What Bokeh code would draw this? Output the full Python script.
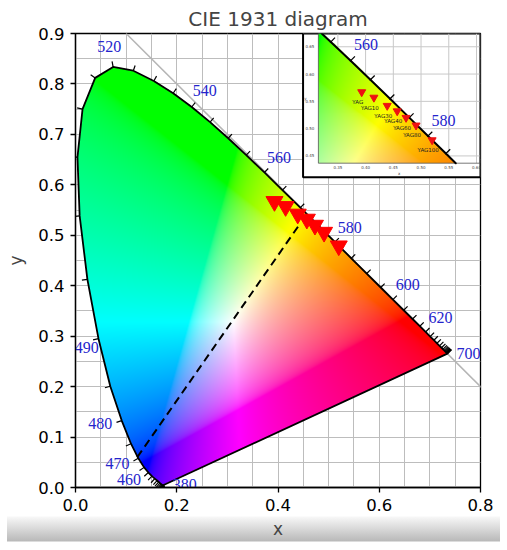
import numpy as np
from bokeh.plotting import figure
from bokeh.models import Range1d, FixedTicker, PrintfTickFormatter, Slope
from bokeh.core.properties import value
from bokeh.embed import file_html
from bokeh.resources import INLINE

# ---------------- data ----------------
wavelengths = list(range(380, 705, 5))
locus_x = [0.1741, 0.1740, 0.1738, 0.1736, 0.1733, 0.1730, 0.1726, 0.1721, 0.1714, 0.1703,
           0.1689, 0.1669, 0.1644, 0.1611, 0.1566, 0.1510, 0.1440, 0.1355, 0.1241, 0.1096,
           0.0913, 0.0687, 0.0454, 0.0235, 0.0082, 0.0039, 0.0139, 0.0389, 0.0743, 0.1142,
           0.1547, 0.1929, 0.2296, 0.2658, 0.3016, 0.3373, 0.3731, 0.4087, 0.4441, 0.4788,
           0.5125, 0.5448, 0.5752, 0.6029, 0.6270, 0.6482, 0.6658, 0.6801, 0.6915, 0.7006,
           0.7079, 0.7140, 0.7190, 0.7230, 0.7260, 0.7283, 0.7300, 0.7311, 0.7320, 0.7327,
           0.7334, 0.7340, 0.7344, 0.7346, 0.7347]
locus_y = [0.0050, 0.0050, 0.0049, 0.0049, 0.0048, 0.0048, 0.0048, 0.0048, 0.0051, 0.0058,
           0.0069, 0.0086, 0.0109, 0.0138, 0.0177, 0.0227, 0.0297, 0.0399, 0.0578, 0.0868,
           0.1327, 0.2007, 0.2950, 0.4127, 0.5384, 0.6548, 0.7502, 0.8120, 0.8338, 0.8262,
           0.8059, 0.7816, 0.7543, 0.7243, 0.6923, 0.6589, 0.6245, 0.5896, 0.5547, 0.5202,
           0.4866, 0.4544, 0.4242, 0.3965, 0.3725, 0.3514, 0.3340, 0.3197, 0.3083, 0.2993,
           0.2920, 0.2859, 0.2809, 0.2770, 0.2740, 0.2717, 0.2700, 0.2689, 0.2680, 0.2673,
           0.2666, 0.2660, 0.2656, 0.2654, 0.2653]
label_wavelengths = [380, 460, 470, 480, 490, 520, 540, 560, 580, 600, 620, 700]
inset_label_wavelengths = [560, 580]

samples = ["YAG", "YAG10", "YAG30", "YAG40", "YAG60", "YAG80", "YAG100"]
sample_x = [0.393, 0.415, 0.439, 0.457, 0.473, 0.491, 0.520]
sample_y = [0.567, 0.557, 0.542, 0.532, 0.520, 0.506, 0.479]

dash_x = [0.122, 0.445]
dash_y = [0.060, 0.525]

x_ticks = [0.0, 0.2, 0.4, 0.6, 0.8]
y_ticks = [0.0, 0.1, 0.2, 0.3, 0.4, 0.5, 0.6, 0.7, 0.8, 0.9]
grid_ticks = [round(0.05 * i, 2) for i in range(19)]
inset_x_ticks = [0.35, 0.40, 0.45, 0.50, 0.55, 0.60]
inset_y_ticks = [0.45, 0.50, 0.55, 0.60, 0.65]

# ---------------- helpers ----------------
LX = np.array(locus_x)
LY = np.array(locus_y)
N = len(LX)


def point_in_polygon(px, py, vx, vy):
    res = np.zeros(px.shape, dtype=bool)
    j = len(vx) - 1
    with np.errstate(divide="ignore", invalid="ignore"):
        for i in range(len(vx)):
            xi, yi, xj, yj = vx[i], vy[i], vx[j], vy[j]
            if yi != yj:
                cond = ((yi > py) != (yj > py)) & (px < (xj - xi) * (py - yi) / (yj - yi) + xi)
                res ^= cond
            j = i
    return res


def xy_to_rgb(xx, yy):
    ys = np.maximum(yy, 1e-4)
    X = xx / ys
    Y = np.ones_like(xx)
    Z = (1 - xx - yy) / ys
    r = 3.2406 * X - 1.5372 * Y - 0.4986 * Z
    g = -0.9689 * X + 1.8758 * Y + 0.0415 * Z
    b = 0.0557 * X - 0.2040 * Y + 1.0570 * Z
    rgb = np.clip(np.stack([r, g, b], -1), 0, None)
    m = rgb.max(-1, keepdims=True)
    rgb = rgb / np.maximum(m, 1e-9)
    rgb = np.where(rgb <= 0.0031308, 12.92 * rgb, 1.055 * np.power(rgb, 1 / 2.4) - 0.055)
    return (np.clip(rgb, 0, 1) * 255).astype(np.uint8)


def make_image(x0, x1, y0, y1, nx, ny):
    xs = x0 + (np.arange(nx) + 0.5) * (x1 - x0) / nx
    ys = y0 + (np.arange(ny) + 0.5) * (y1 - y0) / ny
    XX, YY = np.meshgrid(xs, ys)
    inside = point_in_polygon(XX, YY, LX, LY)
    rgb = xy_to_rgb(XX, YY)
    img = np.zeros((ny, nx), dtype=np.uint32)
    view = img.view(dtype=np.uint8).reshape((ny, nx, 4))
    view[..., 0] = rgb[..., 0]
    view[..., 1] = rgb[..., 1]
    view[..., 2] = rgb[..., 2]
    view[..., 3] = np.where(inside, 255, 0)
    return img


# outward normals of the locus (locus runs clockwise)
TX = np.empty(N)
TY = np.empty(N)
TX[1:-1] = LX[2:] - LX[:-2]
TY[1:-1] = LY[2:] - LY[:-2]
TX[0], TY[0] = LX[1] - LX[0], LY[1] - LY[0]
TX[-1], TY[-1] = LX[-1] - LX[-2], LY[-1] - LY[-2]
NRM = np.hypot(TX, TY)
NX = -TY / NRM
NY = TX / NRM


def label_layout(wls, d_center, d_side, d_end, nudge):
    out = dict(x=[], y=[], text=[], xo=[], yo=[], align=[])
    for wl in wls:
        i = wavelengths.index(wl)
        if i in (0, N - 1):
            al, xo, yo = "left", d_end, 0.0
        elif NX[i] < -0.5:
            al, xo, yo = "right", NX[i] * d_side, -NY[i] * d_side
        else:
            al, xo, yo = "center", NX[i] * d_center, -NY[i] * d_center
        dx, dy = nudge.get(wl, (0, 0))
        out["x"].append(LX[i])
        out["y"].append(LY[i])
        out["text"].append(str(wl))
        out["xo"].append(xo + dx)
        out["yo"].append(yo + dy)
        out["align"].append(al)
    return out


def clip_segment(x0, y0, x1, y1, xmin, xmax, ymin, ymax):
    dx, dy = x1 - x0, y1 - y0
    t0, t1 = 0.0, 1.0
    for pp, qq in ((-dx, x0 - xmin), (dx, xmax - x0), (-dy, y0 - ymin), (dy, ymax - y0)):
        if pp == 0:
            if qq < 0:
                return None
        else:
            t = qq / pp
            if pp < 0:
                t0 = max(t0, t)
            else:
                t1 = min(t1, t)
    if t0 > t1:
        return None
    return (x0 + t0 * dx, y0 + t0 * dy, x0 + t1 * dx, y0 + t1 * dy)


# ---------------- styles ----------------
LABEL_BLUE = "#2424cc"
SERIF = value("Liberation Serif")
TICK_LEN = 0.011

# ---------------- main figure ----------------
p = figure(width=500, height=542, x_range=Range1d(0, 0.8), y_range=Range1d(0, 0.9),
           output_backend="svg", toolbar_location=None, tools="",
           min_border_left=75, min_border_right=20, min_border_top=33, min_border_bottom=55)
p.border_fill_color = None
p.styles = {
    "background-image": "linear-gradient(to bottom, #ffffff 0px, #ffffff 516px, "
                        "#f7f7f7 517px, #b9b9b9 541px, #ffffff 542px)",
    "background-position": "7px 0px",
    "background-size": "493px 100%",
    "background-repeat": "no-repeat",
}

p.title.text = "CIE 1931 diagram"
p.title.align = "center"
p.title.text_font = "DejaVu Sans"
p.title.text_font_size = "20px"
p.title.text_font_style = "normal"
p.title.standoff = 6

p.xaxis.ticker = FixedTicker(ticks=x_ticks)
p.yaxis.ticker = FixedTicker(ticks=y_ticks)
p.xaxis.formatter = PrintfTickFormatter(format="%.1f")
p.yaxis.formatter = PrintfTickFormatter(format="%.1f")
p.xgrid.ticker = FixedTicker(ticks=grid_ticks)
p.ygrid.ticker = FixedTicker(ticks=grid_ticks)
p.grid.grid_line_color = "#bdbdbd"
p.grid.grid_line_width = 1

p.axis.major_label_text_font = "DejaVu Sans"
p.axis.major_label_text_font_size = "16.5px"
p.axis.major_label_text_color = "black"
p.axis.major_tick_out = 5
p.axis.major_tick_in = 0
p.axis.minor_tick_out = 0
p.axis.minor_tick_in = 0
p.axis.major_label_standoff = 6
p.axis.axis_line_color = "black"
p.axis.axis_line_width = 1.3
p.axis.major_tick_line_width = 1.3
p.axis.axis_label_text_font = "DejaVu Sans"
p.axis.axis_label_text_font_size = "17px"
p.axis.axis_label_text_font_style = "normal"
p.xaxis.axis_label = "x"
p.yaxis.axis_label = "y"
p.xaxis.axis_label_standoff = 5
p.yaxis.axis_label_standoff = 9

p.outline_line_color = "black"
p.outline_line_width = 1.3
p.outline_line_alpha = 1.0

# reference line x + y = 1
p.add_layout(Slope(gradient=-1, y_intercept=1, line_color="#b5b5b5", line_width=1.5,
                   level="underlay"))

# coloured chromaticity region
main_img = make_image(0.0, 0.8, 0.0, 0.9, 405, 454)
p.image_rgba(image=[main_img], x=0.0, y=0.0, dw=0.8, dh=0.9)

# spectral locus outline + purple line
p.line(x=list(LX) + [LX[0]], y=list(LY) + [LY[0]], line_color="black", line_width=1.8,
       line_join="round")

# wavelength ticks every 5 nm
p.segment(x0=LX, y0=LY, x1=LX + NX * TICK_LEN, y1=LY + NY * TICK_LEN,
          line_color="black", line_width=1.2)

lab = label_layout(label_wavelengths, 21, 10, 9, {490: (10, 7)})
p.text(x=lab["x"], y=lab["y"], text=lab["text"], x_offset=lab["xo"], y_offset=lab["yo"],
       text_align=lab["align"], text_baseline="middle", text_font=SERIF,
       text_font_size="16px", text_color=LABEL_BLUE)

# dashed mixing line
p.line(x=dash_x, y=dash_y, line_color="black", line_width=2, line_dash="8 5")

# samples
p.scatter(x=sample_x, y=sample_y, marker="inverted_triangle", size=17,
          fill_color="#ff0000", line_color="#ff0000")

# ---------------- inset ----------------
INS_X = (0.3149, 0.6063)
INS_Y = (0.4367, 0.6743)
p.quad(left=0.4495, right=0.8, bottom=0.615, top=0.9, fill_color="white",
       line_color="black", line_width=2)

sub = p.subplot(x_source=Range1d(*INS_X), y_source=Range1d(*INS_Y),
                x_target=Range1d(0.4798, 0.799), y_target=Range1d(0.6429, 0.9))

# inset grid
sub.segment(x0=inset_x_ticks, y0=[INS_Y[0]] * len(inset_x_ticks),
            x1=inset_x_ticks, y1=[INS_Y[1]] * len(inset_x_ticks),
            line_color="#c8c8c8", line_width=1)
sub.segment(x0=[INS_X[0]] * len(inset_y_ticks), y0=inset_y_ticks,
            x1=[INS_X[1]] * len(inset_y_ticks), y1=inset_y_ticks,
            line_color="#c8c8c8", line_width=1)

inset_img = make_image(INS_X[0], INS_X[1], INS_Y[0], INS_Y[1], 322, 262)
sub.image_rgba(image=[inset_img], x=INS_X[0], y=INS_Y[0],
               dw=INS_X[1] - INS_X[0], dh=INS_Y[1] - INS_Y[0])

# inset axes box
sub.quad(left=INS_X[0], right=INS_X[1], bottom=INS_Y[0], top=INS_Y[1],
         fill_color=None, line_color="#555555", line_width=0.8)

# clipped locus in inset
segs = []
for i in range(N - 1):
    c = clip_segment(LX[i], LY[i], LX[i + 1], LY[i + 1], INS_X[0], INS_X[1], INS_Y[0], INS_Y[1])
    if c is not None and (c[0] != c[2] or c[1] != c[3]):
        segs.append(c)
sub.segment(x0=[s[0] for s in segs], y0=[s[1] for s in segs],
            x1=[s[2] for s in segs], y1=[s[3] for s in segs],
            line_color="black", line_width=2, line_cap="round")

ins_idx = [i for i in range(N)
           if INS_X[0] < LX[i] < INS_X[1] and INS_Y[0] < LY[i] < INS_Y[1]]
ii = np.array(ins_idx)
sub.segment(x0=LX[ii], y0=LY[ii], x1=LX[ii] + NX[ii] * TICK_LEN, y1=LY[ii] + NY[ii] * TICK_LEN,
            line_color="black", line_width=1.2)

ilab = label_layout(inset_label_wavelengths, 22, 10, 9, {})
sub.text(x=ilab["x"], y=ilab["y"], text=ilab["text"], x_offset=ilab["xo"], y_offset=ilab["yo"],
         text_align=ilab["align"], text_baseline="middle", text_font=SERIF,
         text_font_size="16px", text_color=LABEL_BLUE)

sub.scatter(x=sample_x, y=sample_y, marker="inverted_triangle", size=8,
            fill_color="#ee1111", line_color="#ee1111")
sub.text(x=sample_x, y=sample_y, text=samples, x_offset=-4, y_offset=10,
         text_align="center", text_baseline="middle", text_font=value("DejaVu Sans"),
         text_font_size="5.5px", text_color="#222222")

# inset tick labels
sub.text(x=inset_x_ticks, y=[INS_Y[0]] * len(inset_x_ticks),
         text=["%.2f" % t for t in inset_x_ticks], y_offset=3,
         text_align="center", text_baseline="top", text_font=value("DejaVu Sans"),
         text_font_size="4px", text_color="#444444")
sub.text(x=[INS_X[0]] * len(inset_y_ticks), y=inset_y_ticks,
         text=["%.2f" % t for t in inset_y_ticks], x_offset=-4,
         text_align="right", text_baseline="middle", text_font=value("DejaVu Sans"),
         text_font_size="4px", text_color="#444444")
sub.text(x=[(INS_X[0] + INS_X[1]) / 2], y=[INS_Y[0]], text=["x"], y_offset=8,
         text_align="center", text_baseline="top", text_font=value("DejaVu Sans"),
         text_font_size="4px", text_color="#444444")
sub.text(x=[INS_X[0]], y=[(INS_Y[0] + INS_Y[1]) / 2], text=["y"], x_offset=-13,
         text_align="center", text_baseline="middle", text_font=value("DejaVu Sans"),
         text_font_size="4px", text_color="#444444")

open("out.html", "w").write(file_html(p, INLINE))
